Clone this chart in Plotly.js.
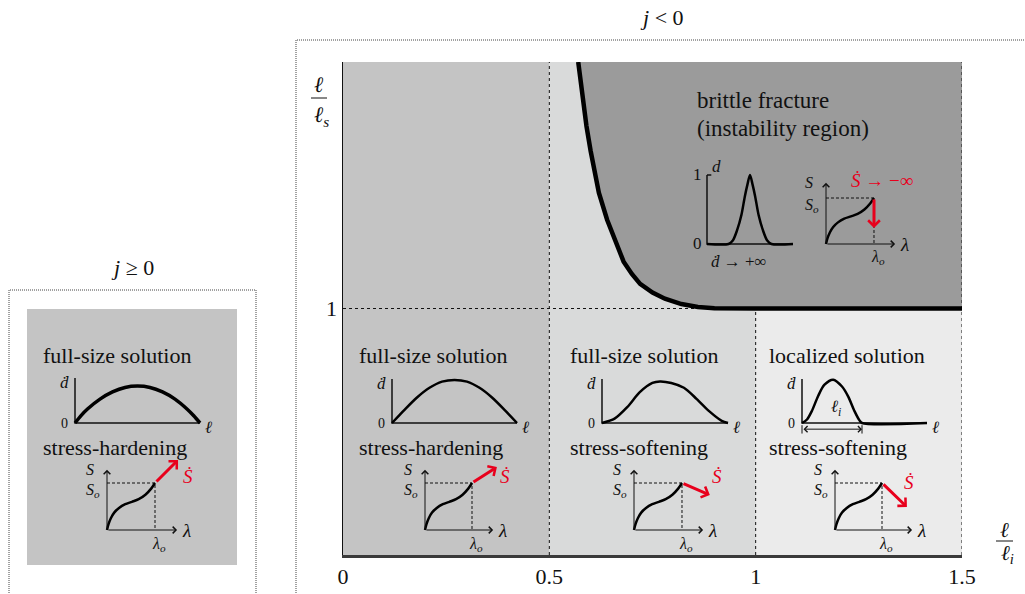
<!DOCTYPE html>
<html>
<head>
<meta charset="utf-8">
<script src="https://cdn.plot.ly/plotly-3.0.1.min.js"></script>
<style>html,body{margin:0;padding:0;background:#fff}</style>
</head>
<body>
<div id="chart" style="width:1025px;height:594px"></div>
<script>
const W = 1025, H = 594;
const SERIF = 'Liberation Serif';

// ---- regime map: ℓ/ℓi on x, ℓ/ℓs on y ----
const xTickVals = [0, 0.5, 1, 1.5];
const xTickText = ['0', '0.5', '1', '1.5'];
const yTickVals = [1];
const yTickText = ['1'];
const xMax = 1.5, yMax = 2;
const softeningStart = 0.5;   // ℓ/ℓi where stress-softening begins
const localizationStart = 1;  // ℓ/ℓi where the solution localizes
const sizeLimit = 1;          // ℓ/ℓs stability limit

// brittle-fracture boundary
const boundaryX = [0.570, 0.580, 0.590, 0.600, 0.620, 0.640, 0.660, 0.680, 0.700, 0.720, 0.750, 0.780, 0.820, 0.860, 0.900, 0.950, 1.0, 1.5];
const boundaryY = [2.0, 1.86, 1.74, 1.64, 1.47, 1.36, 1.27, 1.19, 1.14, 1.10, 1.065, 1.04, 1.018, 1.006, 1.001, 1.0, 1.0, 1.0];

// ---- sketch profiles of ḋ along ℓ (normalized) ----
const archX = [0, 0.05, 0.1, 0.2, 0.3, 0.4, 0.5, 0.6, 0.7, 0.8, 0.9, 0.95, 1];
const archWideY = [0, 0.17, 0.31, 0.53, 0.69, 0.79, 0.82, 0.79, 0.69, 0.53, 0.3, 0.16, 0];
const archY = [0, 0.15, 0.3, 0.58, 0.8, 0.94, 0.98, 0.94, 0.8, 0.58, 0.3, 0.15, 0];
const bellX = [0, 0.1, 0.2, 0.3, 0.4, 0.46, 0.55, 0.65, 0.75, 0.85, 0.95, 1];
const bellY = [0, 0.1, 0.36, 0.7, 0.91, 0.945, 0.91, 0.8, 0.55, 0.27, 0.05, 0];
const localX = [0, 0.04, 0.08, 0.13, 0.18, 0.25, 0.32, 0.37, 0.42, 0.46, 0.48, 1];
const localY = [0, 0.08, 0.28, 0.62, 0.87, 0.985, 0.83, 0.6, 0.27, 0.06, 0, 0];
const localWidth = 0.48;
const peakX = [0, 0.25, 0.3, 0.35, 0.4, 0.44, 0.47, 0.5, 0.53, 0.56, 0.6, 0.65, 0.7, 0.75, 1];
const peakY = [0, 0, 0.05, 0.2, 0.42, 0.69, 0.86, 1, 0.86, 0.69, 0.42, 0.2, 0.05, 0, 0];

// ---- stress–stretch sketch (λ/λo, S/So) ----
const stressX = [0, 0.03, 0.08, 0.15, 0.25, 0.38, 0.52, 0.66, 0.8, 0.92, 1];
const stressY = [0, 0.12, 0.25, 0.37, 0.47, 0.55, 0.6, 0.655, 0.75, 0.88, 1];
// tip of the Ṡ arrow from (λo, So) in each sketch
const rateTipX = [1.48, 1.53, 1.58, 1.53, 1.0];
const rateTipY = [1.49, 1.34, 0.745, 0.49, 0.35];

const traces = [];
const shapes = [];
const annotations = [];
const layout = {
  width: W, height: H,
  margin: {l: 0, r: 0, t: 0, b: 0},
  paper_bgcolor: '#ffffff',
  plot_bgcolor: 'rgba(0,0,0,0)',
  showlegend: false,
  hovermode: false,
  font: {family: SERIF, color: '#111', size: 17},
  xaxis: {
    domain: [343 / W, 962 / W], range: [0, xMax], fixedrange: true,
    showline: true, linecolor: '#3a3a3a', linewidth: 3,
    ticks: '', tickvals: xTickVals, ticktext: xTickText,
    tickfont: {family: SERIF, size: 22, color: '#111'},
    showgrid: false, zeroline: false
  },
  yaxis: {
    domain: [1 - 555 / H, 1 - 62 / H], range: [0, yMax], fixedrange: true,
    showline: true, linecolor: '#111', linewidth: 1.5,
    ticks: '', tickvals: yTickVals, ticktext: yTickText,
    tickfont: {family: SERIF, size: 22, color: '#111'},
    showgrid: false, zeroline: false
  },
  shapes: shapes,
  annotations: annotations
};

const px = v => v / W;
const py = v => 1 - v / H;

function line(n, x, y, color, width, dash, shape) {
  const sfx = n === 1 ? '' : n;
  return {
    type: 'scatter', mode: 'lines', x: x, y: y,
    xaxis: 'x' + sfx, yaxis: 'y' + sfx,
    line: {color: color, width: width, dash: dash || 'solid', shape: shape || 'linear', smoothing: 0.8},
    hoverinfo: 'skip'
  };
}
function area(x, y, color) {
  return {type: 'scatter', mode: 'lines', x: x, y: y, fill: 'toself', fillcolor: color,
          line: {width: 0, color: color}, hoverinfo: 'skip'};
}
function text(s, x, y, xanchor, size) {
  annotations.push({
    text: s, x: x, y: y, xref: 'paper', yref: 'paper', showarrow: false,
    xanchor: xanchor || 'center', yanchor: 'middle',
    font: {family: SERIF, size: size || 22, color: '#111'}
  });
}
function arrow(n, x0, y0, x1, y1, color, width, size, both) {
  annotations.push({
    text: '', xref: 'x' + n, yref: 'y' + n, axref: 'x' + n, ayref: 'y' + n,
    x: x1, y: y1, ax: x0, ay: y0, showarrow: true,
    arrowhead: 4, arrowsize: size, arrowwidth: width, arrowcolor: color,
    arrowside: both ? 'end+start' : 'end', startarrowhead: 4, startarrowsize: size,
    standoff: 0, startstandoff: 0
  });
}
function label(n, s, x, y, xanchor, size, color) {
  annotations.push({
    text: s, x: x, y: y, xref: 'x' + n, yref: 'y' + n, showarrow: false,
    xanchor: xanchor || 'center', yanchor: 'middle',
    font: {family: SERIF, size: size || 17, color: color || '#111'}
  });
}

// ---- regime regions ----
traces.push(area([0, softeningStart, softeningStart, 0, 0], [0, 0, yMax, yMax, 0], '#c4c4c4'));
traces.push(area([softeningStart, xMax, xMax, softeningStart, softeningStart], [0, 0, yMax, yMax, 0], '#d9dada'));
traces.push(area([localizationStart, xMax, xMax, localizationStart, localizationStart], [0, 0, sizeLimit, sizeLimit, 0], '#ebebeb'));
traces.push(area(boundaryX.concat([xMax, boundaryX[0]]), boundaryY.concat([yMax, yMax]), '#9b9b9b'));
// region separators
traces.push(line(1,
  [softeningStart, softeningStart, null, localizationStart, localizationStart, null, xMax, xMax, null, 0, 0.9],
  [0, yMax, null, 0, sizeLimit, null, 0, yMax, null, sizeLimit, sizeLimit],
  '#111', 1, 'dot'));
traces.push(line(1, boundaryX, boundaryY, '#000', 4.5));

// ---- sketch axes ----
let axisN = 2;
function addAxes(ox, oy, sx, sy, xr, yr) {
  const n = axisN++;
  layout['xaxis' + n] = {domain: [(ox + xr[0] * sx) / W, (ox + xr[1] * sx) / W], range: xr,
                         visible: false, fixedrange: true, anchor: 'y' + n};
  layout['yaxis' + n] = {domain: [1 - (oy - yr[0] * sy) / H, 1 - (oy - yr[1] * sy) / H], range: yr,
                         visible: false, fixedrange: true, anchor: 'x' + n};
  return n;
}

function damageSketch(ox, oy, sx, sy, profX, profY, lw, showZeroOne) {
  const n = addAxes(ox, oy, sx, sy, [-0.4, 1.4], [-0.6, 1.4]);
  traces.push(line(n, [0, 0, 1], [1, 0, 0], '#111', 1.5));
  traces.push(line(n, profX, profY, '#000', lw, 'solid', 'spline'));
  if (showZeroOne) {
    traces.push(line(n, [0, 0.05], [1, 1], '#111', 1.5));
    label(n, '1', -0.03, 1, 'right');
    label(n, '0', -0.03, 0, 'right');
    label(n, '<i>d</i>', 0.03, 1.13, 'left');
  } else {
    label(n, '0', -0.04, 0, 'right', 14);
    label(n, '<i>ḋ</i>', -0.03, 0.9, 'right');
    label(n, '<i>ℓ</i>', 1.02, -0.1, 'left');
  }
  return n;
}

function stressSketch(ox, oy, sx, sy, xEnd, yTop, k, rateLabel, rx, ry) {
  const n = addAxes(ox, oy, sx, sy, [-0.8, 2.2], [-0.6, 1.7]);
  traces.push(line(n, [0, 1, 1], [1, 1, 0], '#111', 1, '3px,2px'));
  traces.push(line(n, stressX, stressY, '#000', 2.5, 'solid', 'spline'));
  arrow(n, 0, 0, 0, yTop, '#111', 1, 1.3);
  arrow(n, 0, 0, xEnd, 0, '#111', 1, 1.3);
  arrow(n, 1, 1, rateTipX[k], rateTipY[k], '#e8001c', 3, 0.75);
  label(n, '<i>S</i>', -0.36, yTop, 'center', 16);
  label(n, '<i>S<sub>o</sub></i>', -0.3, 0.84, 'center', 16);
  label(n, '<i>λ<sub>o</sub></i>', 1.08, -0.3, 'center', 16);
  label(n, '<i>λ</i>', xEnd + 0.06, -0.02, 'left', 19);
  label(n, rateLabel, rx, ry, 'center', 19, '#e8001c');
  return n;
}

// j ≥ 0 panel
damageSketch(75, 423, 125, 45, archX, archWideY, 3.5);
stressSketch(107, 530, 48, 47, 1.46, 1.28, 0, '<i>Ṡ</i>', 1.69, 1.13);
// j < 0, hardening
damageSketch(392, 423, 125, 44, archX, archY, 2.5);
stressSketch(425, 530, 47, 47, 1.45, 1.28, 1, '<i>Ṡ</i>', 1.7, 1.13);
// j < 0, softening
damageSketch(602, 423, 126, 44, bellX, bellY, 2.5);
stressSketch(634, 530, 48, 47, 1.44, 1.28, 2, '<i>Ṡ</i>', 1.73, 1.13);
// j < 0, localized
const nLoc = damageSketch(802, 423, 125, 44, localX, localY, 2.5);
traces.push(line(nLoc, [0, 0, null, localWidth, localWidth], [-0.05, -0.24, null, -0.05, -0.24], '#111', 1));
arrow(nLoc, 0, -0.14, localWidth, -0.14, '#111', 1, 1.2, true);
label(nLoc, '<i>ℓ<sub>i</sub></i>', localWidth * 0.56, 0.34);
stressSketch(835, 530, 47, 47, 1.64, 1.28, 3, '<i>Ṡ</i>', 1.57, 1.02);
// brittle fracture
const nBr = damageSketch(707, 244, 86, 69, peakX, peakY, 2.5, true);
label(nBr, '<i>ḋ</i> → +∞', 0.37, -0.26);
stressSketch(826, 244, 48, 46, 1.44, 1.33, 4, '<i>Ṡ</i> → −∞', 1.16, 1.39);

// ---- panel texts ----
text('full-size solution', px(41), py(355), 'left');
text('stress-hardening', px(41), py(447), 'left');
text('full-size solution', px(357), py(355), 'left');
text('stress-hardening', px(357), py(447), 'left');
text('full-size solution', px(568), py(355), 'left');
text('stress-softening', px(568), py(447), 'left');
text('localized solution', px(767), py(355), 'left');
text('stress-softening', px(767), py(447), 'left');
text('brittle fracture', px(695), py(100), 'left', 23);
text('(instability region)', px(695), py(128), 'left', 23);
text('<i>j</i> ≥ 0', px(132), py(268));
text('<i>j</i> < 0', px(662), py(18));

// axis titles drawn as fractions
text('<i>ℓ</i>', px(319), py(84));
text('<i>ℓ<sub>s</sub></i>', px(321), py(116));
shapes.push({type: 'line', xref: 'paper', yref: 'paper', x0: px(311), x1: px(327), y0: py(98), y1: py(98),
             line: {color: '#111', width: 1}});
text('<i>ℓ</i>', px(1004), py(530), 'center', 21);
text('<i>ℓ<sub>i</sub></i>', px(1007), py(554), 'center', 21);
shapes.push({type: 'line', xref: 'paper', yref: 'paper', x0: px(996), x1: px(1013), y0: py(541), y1: py(541),
             line: {color: '#111', width: 1}});

// ---- frames ----
shapes.push({type: 'rect', xref: 'paper', yref: 'paper', layer: 'below',
             x0: px(27), x1: px(237), y0: py(565), y1: py(309), fillcolor: '#c4c4c4', line: {width: 0}});
shapes.push({type: 'rect', xref: 'paper', yref: 'paper', layer: 'below',
             x0: px(9), x1: px(256), y0: py(610), y1: py(290), fillcolor: 'rgba(0,0,0,0)',
             line: {color: '#444', width: 1, dash: '1px,1px'}});
shapes.push({type: 'rect', xref: 'paper', yref: 'paper', layer: 'below',
             x0: px(296), x1: px(1040), y0: py(610), y1: py(40), fillcolor: 'rgba(0,0,0,0)',
             line: {color: '#444', width: 1, dash: '1px,1px'}});

Plotly.newPlot('chart', traces, layout, {staticPlot: true, displayModeBar: false});
</script>
</body>
</html>
